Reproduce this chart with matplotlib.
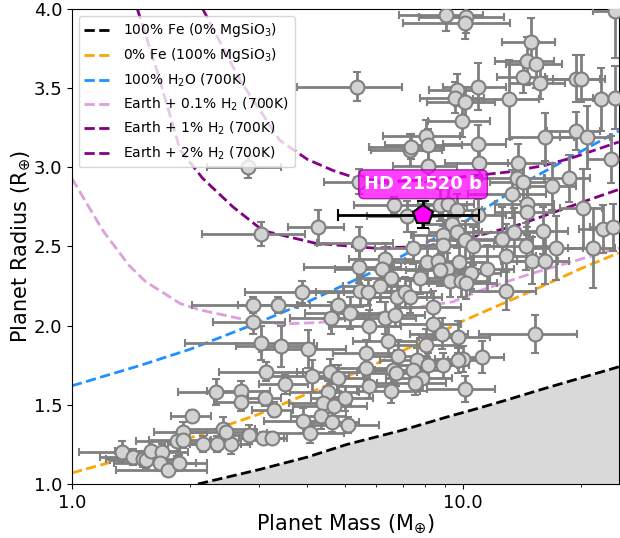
import matplotlib
matplotlib.use("Agg")
import matplotlib.pyplot as plt
from matplotlib.ticker import FixedLocator, FixedFormatter, NullFormatter

# known planets (mass in Earth masses, radius in Earth radii)
mass = [1.34, 1.43, 1.52, 1.55, 1.59, 1.70, 1.68, 1.76, 1.88, 1.92,
        1.86, 1.92, 2.03, 2.16, 2.35, 2.55, 2.43, 2.48, 2.83, 3.08,
        3.25, 2.34, 2.71, 2.71, 3.12, 3.28, 3.51, 3.14, 3.05, 3.42,
        4.01, 4.11, 4.57, 4.79, 4.52, 4.38, 4.68, 4.33, 3.89, 4.62,
        4.06, 5.08, 2.90, 3.36, 2.90, 4.60, 4.79, 3.05, 4.26, 5.42,
        6.66, 7.18, 5.42, 6.30, 6.20, 6.55, 6.13, 5.45, 5.71, 6.78,
        7.10, 3.87, 5.14, 6.30, 6.70, 5.75, 6.43, 5.64, 6.82, 5.64,
        6.62, 6.74, 5.75, 6.55, 4.99, 5.42, 8.13, 7.32, 13.8, 13.7,
        16.9, 18.6, 23.9, 13.3, 14.6, 14.6, 20.2, 8.73, 9.15, 9.66,
        9.37, 9.66, 8.87, 10.1, 10.6, 7.45, 8.87, 12.6, 13.5, 16.0,
        14.5, 17.3, 21.5, 22.8, 24.1, 12.9, 15.0, 16.2, 11.5, 8.09,
        8.62, 9.77, 9.09, 7.76, 8.73, 10.5, 9.26, 9.89, 10.2, 7.32,
        12.9, 8.38, 8.38, 8.82, 9.71, 8.04, 15.3, 11.2, 10.0, 9.71,
        8.87, 7.63, 8.13, 7.45, 7.86, 7.54, 10.1, 9.04, 10.2, 10.1,
        24.5, 14.9, 14.6, 15.4, 14.2, 15.7, 19.4, 20.0, 22.5, 24.5,
        5.36, 10.9, 9.66, 9.54, 10.1, 13.1, 9.94, 8.04, 8.13, 7.36,
        10.9, 16.2, 19.4, 20.7, 11.0, 14.2, 10.9, 2.82]
radius = [1.20, 1.17, 1.16, 1.15, 1.21, 1.20, 1.13, 1.09, 1.13, 1.33,
          1.27, 1.28, 1.43, 1.25, 1.25, 1.25, 1.35, 1.33, 1.31, 1.29,
          1.29, 1.58, 1.59, 1.52, 1.54, 1.47, 1.63, 1.71, 1.89, 1.87,
          1.85, 1.68, 1.71, 1.67, 1.58, 1.51, 1.49, 1.43, 1.40, 1.39,
          1.32, 1.37, 2.13, 2.13, 2.02, 2.05, 2.13, 2.58, 2.62, 2.52,
          2.76, 2.69, 2.37, 2.42, 2.36, 2.30, 2.25, 2.22, 2.21, 2.18,
          2.21, 2.21, 2.08, 2.05, 2.07, 2.00, 1.90, 1.83, 1.81, 1.73,
          1.72, 1.70, 1.62, 1.59, 1.54, 2.91, 3.01, 3.11, 3.03, 2.93,
          2.88, 2.93, 3.05, 2.83, 2.77, 2.72, 2.74, 2.76, 2.77, 2.73,
          2.64, 2.59, 2.57, 2.54, 2.50, 2.49, 2.51, 2.55, 2.59, 2.60,
          2.50, 2.49, 2.49, 2.61, 2.62, 2.44, 2.41, 2.41, 2.36, 2.40,
          2.41, 2.40, 2.36, 2.30, 2.35, 2.33, 2.28, 2.28, 2.27, 2.18,
          2.22, 2.12, 2.01, 1.95, 1.93, 1.88, 1.95, 1.80, 1.79, 1.78,
          1.75, 1.78, 1.75, 1.72, 1.67, 1.64, 1.60, 3.96, 3.95, 3.91,
          3.99, 3.79, 3.67, 3.65, 3.57, 3.53, 3.56, 3.56, 3.43, 3.44,
          3.51, 3.51, 3.49, 3.44, 3.41, 3.43, 3.29, 3.20, 3.14, 3.13,
          3.15, 3.19, 3.23, 3.19, 3.03, 2.91, 2.70, 3.00]
mass_err = [0.30, 0.25, 0.30, 0.30, 0.30, 0.28, 0.40, 0.46, 0.33, 0.30,
            0.40, 0.35, 0.24, 0.40, 0.35, 0.30, 0.50, 0.50, 0.35, 0.40,
            0.30, 0.47, 0.50, 0.40, 0.30, 0.40, 0.50, 0.76, 1.10, 0.80,
            1.00, 1.00, 0.80, 0.80, 0.90, 0.80, 1.00, 0.70, 0.80, 0.80,
            0.90, 1.00, 0.87, 0.70, 0.60, 1.00, 1.00, 0.90, 0.70, 1.20,
            1.40, 1.50, 1.50, 1.20, 1.50, 1.20, 1.20, 1.50, 1.50, 1.30,
            1.20, 1.10, 1.20, 1.30, 1.30, 1.20, 1.20, 1.00, 1.20, 1.00,
            1.20, 1.20, 1.00, 1.20, 0.90, 1.00, 1.50, 1.50, 2.50, 2.50,
            2.50, 2.50, 3.00, 3.00, 2.50, 2.50, 2.50, 1.50, 1.50, 1.50,
            1.50, 1.50, 1.50, 2.00, 2.00, 1.50, 1.60, 2.50, 2.50, 2.50,
            2.50, 3.00, 3.00, 3.00, 3.00, 2.50, 2.50, 2.50, 2.00, 1.50,
            1.50, 1.80, 1.50, 1.50, 1.60, 2.00, 1.50, 1.80, 2.00, 1.50,
            2.50, 1.50, 1.50, 1.50, 2.00, 1.60, 4.30, 1.50, 1.50, 1.50,
            1.50, 1.50, 1.50, 1.50, 1.50, 1.50, 2.00, 2.20, 2.50, 3.10,
            3.00, 2.30, 2.50, 2.50, 2.00, 2.50, 3.00, 3.00, 3.00, 3.00,
            1.60, 2.00, 1.50, 1.80, 2.00, 2.50, 1.80, 1.80, 1.80, 1.60,
            2.00, 3.00, 3.00, 3.00, 2.00, 2.50, 2.00, 0.60]
radius_err = [0.07, 0.05, 0.05, 0.05, 0.06, 0.05, 0.05, 0.04, 0.05, 0.06,
              0.06, 0.05, 0.04, 0.05, 0.05, 0.06, 0.07, 0.05, 0.06, 0.04,
              0.04, 0.08, 0.06, 0.06, 0.05, 0.05, 0.06, 0.06, 0.11, 0.13,
              0.12, 0.10, 0.08, 0.08, 0.07, 0.08, 0.06, 0.08, 0.08, 0.06,
              0.06, 0.05, 0.05, 0.05, 0.07, 0.10, 0.08, 0.075, 0.11, 0.10,
              0.05, 0.10, 0.10, 0.10, 0.08, 0.08, 0.10, 0.10, 0.08, 0.10,
              0.10, 0.07, 0.10, 0.10, 0.08, 0.10, 0.10, 0.08, 0.10, 0.07,
              0.08, 0.08, 0.08, 0.08, 0.08, 0.08, 0.10, 0.10, 0.12, 0.12,
              0.15, 0.15, 0.15, 0.15, 0.15, 0.15, 0.25, 0.10, 0.10, 0.10,
              0.10, 0.10, 0.10, 0.12, 0.12, 0.10, 0.12, 0.20, 0.15, 0.15,
              0.15, 0.20, 0.25, 0.15, 0.15, 0.20, 0.15, 0.15, 0.15, 0.10,
              0.10, 0.10, 0.10, 0.10, 0.10, 0.10, 0.10, 0.10, 0.10, 0.10,
              0.12, 0.10, 0.10, 0.10, 0.10, 0.10, 0.12, 0.10, 0.08, 0.08,
              0.08, 0.08, 0.08, 0.08, 0.08, 0.08, 0.08, 0.10, 0.10, 0.10,
              0.30, 0.15, 0.15, 0.15, 0.10, 0.10, 0.15, 0.15, 0.20, 0.20,
              0.09, 0.15, 0.10, 0.10, 0.10, 0.25, 0.10, 0.10, 0.10, 0.08,
              0.12, 0.15, 0.12, 0.20, 0.10, 0.12, 0.10, 0.07]

# HD 21520 b
hd_mass, hd_mass_err = 7.9, 3.1
hd_radius, hd_radius_err = 2.70, 0.085

# composition models
fe_m = [2.1, 3.0, 4.0, 5.05, 7.0, 9.0, 11.0, 12.9, 16.0, 20.0, 25.0]
fe_r = [1.0, 1.09, 1.17, 1.25, 1.34, 1.42, 1.48, 1.53, 1.60, 1.67, 1.74]
rock_m = [1.0, 1.5, 2.0, 3.0, 4.0, 6.0, 8.0, 10.0, 15.0, 20.0, 25.0]
rock_r = [1.07, 1.19, 1.29, 1.44, 1.57, 1.76, 1.91, 2.03, 2.22, 2.36, 2.46]
water_m = [1.0, 1.5, 2.0, 3.0, 4.0, 6.0, 8.0, 10.0, 15.0, 20.0, 25.0]
water_r = [1.62, 1.75, 1.85, 2.02, 2.15, 2.35, 2.52, 2.65, 2.93, 3.10, 3.23]
h01_m = [1.0, 1.2, 1.4, 1.54, 1.89, 2.12, 2.74, 3.4, 4.3, 5.14, 6.9, 9.4, 11.0, 15.0, 20.0, 25.0]
h01_r = [2.93, 2.60, 2.38, 2.28, 2.14, 2.10, 2.04, 2.01, 2.02, 2.05, 2.10, 2.15, 2.22, 2.33, 2.42, 2.49]
h1_m = [1.47, 1.65, 1.89, 2.16, 2.58, 3.08, 4.2, 5.9, 8.0, 11.0, 14.0, 20.7, 25.0]
h1_r = [4.0, 3.61, 3.11, 2.93, 2.75, 2.60, 2.52, 2.49, 2.50, 2.57, 2.64, 2.79, 2.86]
h2_m = [2.16, 2.69, 3.4, 4.0, 4.65, 5.35, 6.5, 8.0, 10.0, 13.0, 16.0, 19.0, 25.0]
h2_r = [4.0, 3.55, 3.17, 3.05, 2.98, 2.93, 2.91, 2.92, 2.94, 2.97, 3.01, 3.06, 3.16]

fig = plt.figure(figsize=(6.2, 5.38), dpi=100)
ax = fig.add_axes([0.116, 0.1004, 0.882, 0.8829])

ax.fill_between(fe_m, 0, fe_r, color='#d9d9d9', zorder=1)
ax.plot(fe_m, fe_r, '--', color='k', lw=2, label=r'100% Fe (0% MgSiO$_3$)', zorder=2)
ax.plot(rock_m, rock_r, '--', color='orange', lw=2, label=r'0% Fe (100% MgSiO$_3$)', zorder=2)
ax.plot(water_m, water_r, '--', color='dodgerblue', lw=2, label=r'100% H$_2$O (700K)', zorder=2)
ax.plot(h01_m, h01_r, '--', color='plum', lw=2, label=r'Earth + 0.1% H$_2$ (700K)', zorder=2)
ax.plot(h1_m, h1_r, '--', color='purple', lw=2, label=r'Earth + 1% H$_2$ (700K)', zorder=2)
ax.plot(h2_m, h2_r, '--', color='darkmagenta', lw=2, label=r'Earth + 2% H$_2$ (700K)', zorder=2)

ax.errorbar(mass, radius, xerr=mass_err, yerr=radius_err, fmt='o', color='gray',
            mfc='lightgray', mec='gray', ms=10, mew=1.5, elinewidth=2,
            capsize=3, capthick=1.5, zorder=3)

ax.errorbar([hd_mass], [hd_radius], xerr=[hd_mass_err], yerr=[hd_radius_err], fmt='p',
            color='k', mfc='magenta', mec='k', ms=15, mew=1.5, elinewidth=2,
            capsize=4, capthick=1.5, zorder=5)
ax.annotate('HD 21520 b', (hd_mass, hd_radius), xytext=(0, 22), textcoords='offset points',
            ha='center', va='center', color='white', fontsize=13, fontweight='bold',
            bbox=dict(boxstyle='round,pad=0.3', fc='magenta', ec='darkmagenta', alpha=0.75),
            zorder=6)

ax.set_xscale('log')
ax.set_xlim(1, 25)
ax.set_ylim(1.0, 4.0)
ax.xaxis.set_major_locator(FixedLocator([1, 10]))
ax.xaxis.set_major_formatter(FixedFormatter(['1.0', '10.0']))
ax.xaxis.set_minor_formatter(NullFormatter())
ax.set_yticks([1.0, 1.5, 2.0, 2.5, 3.0, 3.5, 4.0])
ax.set_yticklabels(['1.0', '1.5', '2.0', '2.5', '3.0', '3.5', '4.0'])
ax.tick_params(labelsize=13)
ax.set_xlabel(r'Planet Mass (M$_{\oplus}$)', fontsize=15, labelpad=0.5)
ax.set_ylabel(r'Planet Radius (R$_{\oplus}$)', fontsize=15, labelpad=0)
ax.legend(loc='upper left', fontsize=10)

fig.savefig('out.png', dpi=100)
